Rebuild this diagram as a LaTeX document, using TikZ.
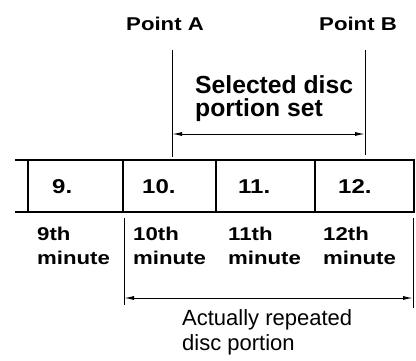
\documentclass[tikz,border=0pt]{standalone}
\usepackage{fontspec}
\setmainfont{Liberation Sans}
\newfontfamily\widesans[FakeStretch=1.2]{Liberation Sans}
\usetikzlibrary{arrows.meta,positioning}

\begin{document}
\begin{tikzpicture}[
    x=1pt, y=-1pt,
    pointlabel/.style={anchor=base west, inner sep=0pt, font=\widesans\bfseries\fontsize{18.5}{22}\selectfont},
    setlabel/.style={anchor=base west, inner sep=0pt, align=left, font=\bfseries\fontsize{24.7}{23.5}\selectfont},
    cellnum/.style={anchor=base west, inner sep=0pt, font=\widesans\bfseries\fontsize{20}{24}\selectfont},
    minlabel/.style={anchor=base west, inner sep=0pt, align=left, font=\widesans\bfseries\fontsize{18.5}{24}\selectfont},
    replabel/.style={anchor=base west, inner sep=0pt, align=left, font=\fontsize{22}{25}\selectfont},
    cell/.style={rectangle, draw, line width=1.6pt, minimum height=52pt, inner sep=0pt, outer sep=0pt},
    guide/.style={line width=1pt},
    dimarrow/.style={{Latex[length=10pt,width=4pt]}-{Latex[length=10pt,width=4pt]}, line width=1pt}
]
\useasboundingbox (0,0) rectangle (416,360);

% Points
\node[pointlabel] (pointA) at (126,30.7) {Point A};
\node[pointlabel] (pointB) at (319,30.7) {Point B};

\coordinate (guideA_top) at (172,50);
\coordinate (guideA_bot) at (172,157);
\coordinate (guideB_top) at (365,50);
\coordinate (guideB_bot) at (365,155);
\coordinate (selA) at (172,134);
\coordinate (selB) at (365,134);

\draw[guide] (guideA_top) -- (guideA_bot);
\draw[guide] (guideB_top) -- (guideB_bot);
\draw[dimarrow] (selA) -- (selB);
\node[setlabel] (selected) at (195,116.5) {Selected disc\\portion set};

% Disc strip
\node[cell, minimum width=95pt] (cell9) at (75.5,186) {};
\node[cell, minimum width=93pt, right=0pt of cell9] (cell10) {};
\node[cell, minimum width=99pt, right=0pt of cell10] (cell11) {};
\node[cell, minimum width=99pt, right=0pt of cell11] (cell12) {};
\draw[line width=1.6pt] (cell9.north west) -- ++(-13,0);
\draw[line width=1.6pt] (cell9.south west) -- ++(-13,0);

\node[cellnum] (num9) at (52,193) {9.};
\node[cellnum] (num10) at (142,193) {10.};
\node[cellnum] (num11) at (238,193) {11.};
\node[cellnum] (num12) at (338,193) {12.};

% Minutes
\node[minlabel] (min9) at (37,264) {9th\\minute};
\node[minlabel] (min10) at (133,264) {10th\\minute};
\node[minlabel] (min11) at (228,264) {11th\\minute};
\node[minlabel] (min12) at (323,264) {12th\\minute};

\coordinate (repA_top) at (124,218);
\coordinate (repA_bot) at (124,305);
\coordinate (repB_top) at (413,218);
\coordinate (repB_bot) at (413,308);
\coordinate (repA) at (124,298);
\coordinate (repB) at (413,298);

\draw[guide] (repA_top) -- (repA_bot);
\draw[guide] (repB_top) -- (repB_bot);
\draw[dimarrow] (repA) -- (repB);
\node[replabel] (repeated) at (182,350) {Actually repeated\\disc portion};

\end{tikzpicture}
\end{document}
